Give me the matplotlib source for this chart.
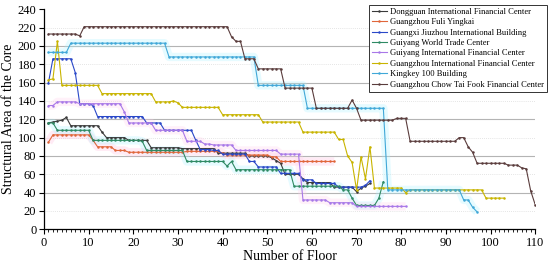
import matplotlib
matplotlib.use("Agg")
import matplotlib.pyplot as plt
from matplotlib.ticker import MultipleLocator

plt.rcParams['font.family'] = ['Liberation Serif', 'DejaVu Serif']

names = [
    "Dongguan International Financial Center",
    "Guangzhou Fuli Yingkai",
    "Guangxi Jiuzhou International Building",
    "Guiyang World Trade Center",
    "Guiyang International Financial Center",
    "Guangzhou International Financial Center",
    "Kingkey 100 Building",
    "Guangzhou Chow Tai Fook Financial Center",
]
colors = ["#3a3a3a", "#e0663a", "#2a48c8", "#2e8a64", "#a878e8", "#c8b400", "#40a8d8", "#5a3c3c"]

dongguan = [116, 117, 118, 119, 122,
            113, 113, 113, 113, 113, 113, 113,
            106,
            100, 100, 100, 100, 100,
            97, 97, 97, 97, 97,
            89, 89, 89, 89, 89, 89, 89,
            88, 88, 88, 88, 88, 88, 88, 88,
            83, 83, 83, 83, 83, 83, 83,
            80, 80, 80, 80, 80,
            78, 75, 72,
            60, 60, 60, 60,
            55,
            51, 51, 51, 51, 51, 51,
            46, 46, 46, 46, 46,
            41, 45, 47, 50]

fuli = [95,
        103, 103, 103, 103, 103, 103, 103, 103, 103,
        97,
        90, 90, 90, 90,
        86, 86, 86,
        84, 84, 84, 84, 84, 84, 84, 84, 84, 84, 84, 84, 84,
        85, 85, 85, 85, 85, 85, 85, 85,
        83,
        81, 81, 81, 81, 81, 81, 81, 81, 81, 81,
        79, 79,
        74, 74, 74, 74, 74, 74, 74, 74, 74, 74, 74, 74, 74]

guangxi = [160,
           186, 186, 186, 186, 186,
           171,
           137, 137, 137,
           135,
           123, 123, 123, 123, 123, 123, 123, 123, 123, 123, 123,
           116, 116, 116, 116,
           108, 108, 108, 108, 108, 108, 108,
           97,
           87, 87, 87,
           86, 86,
           82, 82, 82, 82, 82, 82,
           74, 74,
           68, 68, 68, 68, 68,
           61, 61, 61, 61, 61,
           54, 54, 54,
           50, 50, 50, 50, 50,
           46, 46, 46, 46, 46, 46,
           48, 53]

guiyang_wtc = [116, 116,
               108, 108, 108, 108, 108, 108, 108, 108,
               97, 97, 97, 97, 97, 97, 97, 97, 97, 97, 97,
               96,
               86, 86, 86, 86, 86, 86, 86, 86, 86,
               74, 74, 74, 74, 74, 74, 74, 74, 74,
               69, 74,
               65, 65, 65, 65, 65, 65, 65, 65, 65, 65, 65, 65, 65,
               47, 47, 47, 47, 47, 47, 47, 47, 47, 47, 47,
               43, 43,
               34,
               26, 26, 26, 26, 26,
               34, 52]

guiyang_ifc = [135, 135,
               139, 139, 139, 139, 139,
               137, 137, 137, 137, 137, 137, 137, 137, 137, 137,
               128,
               116, 116, 116, 116, 116, 116,
               108, 108, 108, 108, 108, 108, 108,
               96, 96, 96, 96,
               93, 93,
               92, 92, 92, 92, 92,
               86, 86, 86, 86, 86, 86, 86, 86, 86, 86,
               82, 82, 82, 82, 82,
               32, 32, 32, 32, 32, 32,
               29, 29, 29, 29, 29, 29,
               25, 25, 25, 25, 25, 25, 25, 25, 25, 25, 25, 25]

guangzhou_ifc = [163, 164, 205,
                 157, 157, 157, 157, 157, 157, 157, 157, 157,
                 148, 148, 148, 148, 148, 148, 148, 148, 148, 148, 148, 148,
                 139, 139, 139, 139,
                 140, 138,
                 133, 133, 133, 133, 133, 133, 133, 133, 133,
                 125, 125, 125, 125, 125, 125, 125, 125, 125,
                 117, 117, 117, 117, 117, 117, 117, 117, 117,
                 106, 106, 106, 106, 106, 106, 106, 106,
                 98, 98,
                 80, 73, 43, 79, 55, 90,
                 45, 45, 45, 45, 45, 45, 45,
                 40,
                 43, 43, 43, 43, 43, 43, 43, 43, 43, 43, 43, 43, 43, 43, 43, 43, 43,
                 34, 34, 34, 34, 34]

kingkey = [193, 193, 193, 193, 193,
           203, 203, 203, 203, 203, 203, 203, 203, 203, 203, 203,
           203, 203, 203, 203, 203, 203, 203, 203, 203, 203, 203,
           188, 188, 188, 188, 188, 188, 188, 188, 188, 188,
           188, 188, 188, 188, 188, 188, 188, 188, 188, 188,
           157, 157, 157, 157, 157, 157, 157, 157, 157, 157, 157,
           132, 132, 132, 132, 132, 132, 132, 132, 132, 132, 132, 132, 132, 132, 132, 132, 132,
           132,
           43, 43, 43, 43, 43, 43, 43, 43, 43, 43, 43, 43, 43, 43, 43, 43, 43,
           32, 32, 24, 19]

ctf = [213, 213, 213, 213, 213, 213, 213,
       211,
       221, 221, 221, 221, 221, 221, 221, 221, 221, 221, 221,
       221, 221, 221, 221, 221, 221, 221, 221, 221, 221, 221,
       221, 221, 221, 221, 221, 221, 221, 221, 221, 221, 221,
       210,
       205, 205,
       186, 186, 186,
       175, 175, 175, 175, 175, 175,
       154, 154, 154, 154, 154, 154, 154,
       132, 132, 132, 132, 132, 132, 132, 132,
       141, 132,
       119, 119, 119, 119, 119, 119, 119, 119,
       121, 121, 121,
       96, 96, 96, 96, 96, 96, 96, 96, 96, 96, 96,
       100, 100,
       90, 84,
       72, 72, 72, 72, 72, 72, 72,
       70, 70, 70,
       67, 66, 42, 27]

series = [dongguan, fuli, guangxi, guiyang_wtc, guiyang_ifc, guangzhou_ifc, kingkey, ctf]
band_colors = {1: "#ffb8dc", 3: "#a8f2ff", 6: "#a8f2ff", 4: "#ffd0ec"}

fig = plt.figure(figsize=(5.5, 2.68), dpi=100)
ax = fig.add_axes([0.08, 0.1444, 0.893, 0.821])

# horizontal grid
for yv in range(20, 240, 20):
    if yv % 40 == 0:
        ax.axhline(yv, color="#b4b4b4", lw=0.8, zorder=0)
    else:
        ax.axhline(yv, color="#dcdcdc", lw=0.6, ls=(0, (1, 1.5)), zorder=0)

# soft highlight bands behind some series
for idx, bc in band_colors.items():
    vals = series[idx]
    floors = list(range(1, len(vals) + 1))
    ax.plot(floors, vals, color=bc, lw=6, alpha=0.28, solid_capstyle="butt", zorder=1)

for vals, name, col in zip(series, names, colors):
    floors = list(range(1, len(vals) + 1))
    ax.plot(floors, vals, color=col, lw=0.8, marker="o", ms=1.8,
            markeredgewidth=0, label=name, zorder=3)

ax.set_xlim(0, 110)
ax.set_ylim(0, 240)
ax.xaxis.set_major_locator(MultipleLocator(10))
ax.xaxis.set_minor_locator(MultipleLocator(1))
ax.yaxis.set_major_locator(MultipleLocator(20))
ax.tick_params(axis="both", which="major", labelsize=9, length=3.5, width=0.8, direction="out", pad=2)
ax.tick_params(axis="x", which="minor", length=2, width=0.6, direction="out")
for s in ["top", "right"]:
    ax.spines[s].set_visible(False)
for s in ["left", "bottom"]:
    ax.spines[s].set_linewidth(0.9)

ax.set_xlabel("Number of Floor", fontsize=10, labelpad=1)
ax.set_ylabel("Structural Area of the Core", fontsize=10, labelpad=2)

leg = ax.legend(loc="upper right", bbox_to_anchor=(547 / 550, 1 - 5 / 268),
                bbox_transform=fig.transFigure, fontsize=6.1, frameon=True,
                fancybox=False, edgecolor="#333333", framealpha=1,
                handlelength=1.7, handletextpad=0.4, borderpad=0.35,
                labelspacing=0.28, borderaxespad=0)
leg.get_frame().set_linewidth(0.7)

fig.savefig("out.png", dpi=100)
